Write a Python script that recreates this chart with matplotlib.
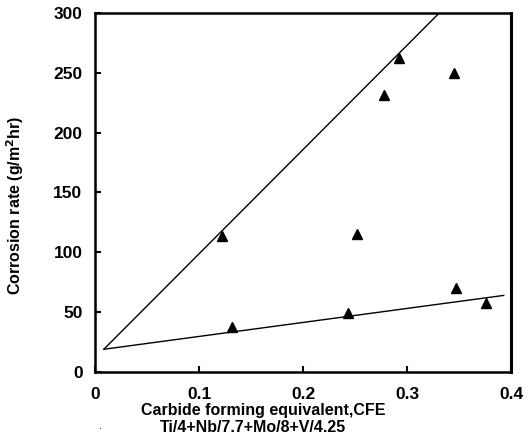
import matplotlib
matplotlib.use("Agg")
import matplotlib.pyplot as plt

# measured points (CFE, corrosion rate g/m2hr)
cfe  = [0.122, 0.132, 0.243, 0.252, 0.278, 0.292, 0.345, 0.347, 0.376]
rate = [113.5, 37.5, 49.0, 115.5, 231.5, 262.5, 250.0, 70.0, 57.5]

# hand-drawn trend lines
upper_x = [0.0085, 0.331]
upper_y = [19.0, 300.0]
lower_x = [0.0085, 0.393]
lower_y = [19.0, 64.0]

x_ticks = [0, 0.1, 0.2, 0.3, 0.4]
x_tick_labels = ["0", "0.1", "0.2", "0.3", "0.4"]
y_ticks = [0, 50, 100, 150, 200, 250, 300]

plt.rcParams["font.family"] = ["Liberation Sans", "DejaVu Sans"]

fig = plt.figure(figsize=(5.28, 4.44), dpi=100)
ax = fig.add_axes([95 / 528, 72 / 444, 416 / 528, 359 / 444])

ax.plot(upper_x, upper_y, color="black", lw=1.0)
ax.plot(lower_x, lower_y, color="black", lw=1.0)
ax.plot(cfe, rate, linestyle="none", marker="^", color="black", markersize=7)

ax.set_xlim(0, 0.4)
ax.set_ylim(0, 300)
ax.set_xticks(x_ticks)
ax.set_xticklabels(x_tick_labels)
ax.set_yticks(y_ticks)

ax.tick_params(direction="in", length=4, width=1.5, labelsize=12.5)
ax.tick_params(axis="x", pad=11)
ax.tick_params(axis="y", pad=9)
for lab in ax.get_xticklabels() + ax.get_yticklabels():
    lab.set_fontweight("bold")
for side in ["left", "bottom", "top"]:
    ax.spines[side].set_linewidth(1.8)
ax.spines["right"].set_linewidth(2.2)

fig.text(15 / 528, 1 - 205 / 444, "Corrosion rate (g/m$^{\\mathbf{2}}$hr)",
         rotation=90, ha="center", va="center", fontsize=11.5, fontweight="bold")

fig.text(263 / 528, 1 - 410 / 444, "Carbide forming equivalent,CFE",
         ha="center", va="center", fontsize=11.5, fontweight="bold")
fig.text(253 / 528, 1 - 427 / 444, "Ti/4+Nb/7.7+Mo/8+V/4.25",
         ha="center", va="center", fontsize=11.5, fontweight="bold")
fig.text(101 / 528, 1 - 426 / 444, ".", ha="center", va="center", fontsize=8)

fig.savefig("out.png", dpi=100)
